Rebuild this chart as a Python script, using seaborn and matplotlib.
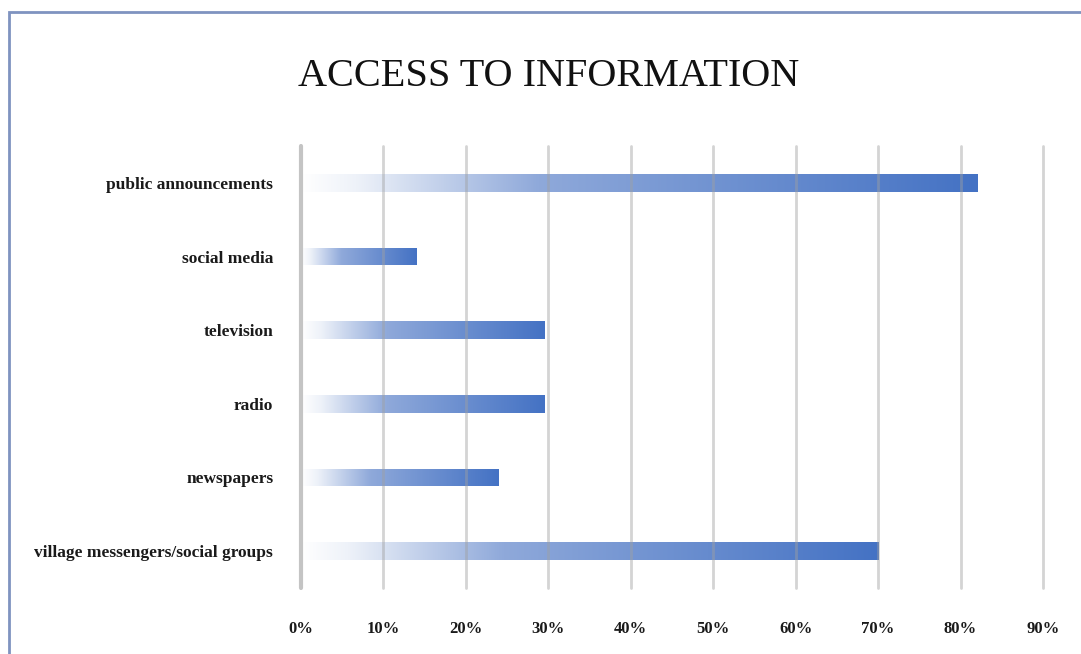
import numpy as np
import pandas as pd
import matplotlib
matplotlib.use("Agg")
import matplotlib.pyplot as plt
from matplotlib.colors import LinearSegmentedColormap
from matplotlib.patches import Rectangle
import seaborn as sns

categories = ["public announcements", "social media", "television", "radio",
              "newspapers", "village messengers/social groups"]
values = [82, 14, 29.5, 29.5, 24, 70]
xticks = [0, 10, 20, 30, 40, 50, 60, 70, 80, 90]
xtick_labels = [f"{t}%" for t in xticks]

sns.set_theme(style="white")
plt.rcParams['font.family'] = ['Liberation Serif', 'DejaVu Serif']

df = pd.DataFrame({"category": categories, "value": values})

fig = plt.figure(figsize=(10.81, 6.54), dpi=100)
ax = fig.add_axes([301/1081, 1 - 587.8/654, (1043 - 301)/1081, (587.8 - 146.2)/654])

sns.barplot(data=df, x="value", y="category", orient="h", width=0.24, ax=ax,
            color="#4472C4")

cmap = LinearSegmentedColormap.from_list(
    "grad", [(0.0, "#FFFFFF"), (0.08, "#EEF2F9"), (0.35, "#8FA9DA"), (1.0, "#4472C4")])
grad = np.linspace(0, 1, 256).reshape(1, -1)
for p in list(ax.patches):
    x0, y0 = p.get_x(), p.get_y()
    w, h = p.get_width(), p.get_height()
    p.set_facecolor("none")
    p.set_edgecolor("none")
    im = ax.imshow(grad, cmap=cmap, aspect="auto", extent=(x0, x0 + w, y0 + h, y0),
                   zorder=2, interpolation="bicubic")
    im.set_clip_path(p)

ax.set_xlim(0, 90)
ax.set_ylim(5.5, -0.5)
ax.set_xticks(xticks)
ax.set_xticklabels(xtick_labels)
ax.set_xlabel("")
ax.set_ylabel("")
for s in ax.spines.values():
    s.set_visible(False)
for t in xticks[1:]:
    ax.axvline(t, color="#A0A0A0", alpha=0.45, linewidth=2, zorder=4, clip_on=False)
ax.axvline(0, color="#C4C4C4", linewidth=3, zorder=4, clip_on=False)
ax.tick_params(axis="x", length=5, width=1.5, color="#C8C8C8", pad=19, labelsize=12)
ax.tick_params(axis="y", length=0, pad=20, labelsize=12.5)
for lab in ax.get_xticklabels() + ax.get_yticklabels():
    lab.set_fontweight("bold")
    lab.set_color("#1A1A1A")

fig.text(549/1081, 1 - 76/654, "ACCESS TO INFORMATION", ha="center", va="center",
         fontsize=29, color="#111111")

fig.patches.append(Rectangle((9/1081, -0.01), 1.02, 1 - 12/654 + 0.01,
                             transform=fig.transFigure, fill=False,
                             edgecolor="#7F93C0", linewidth=2))

fig.savefig("out.png", dpi=100)
